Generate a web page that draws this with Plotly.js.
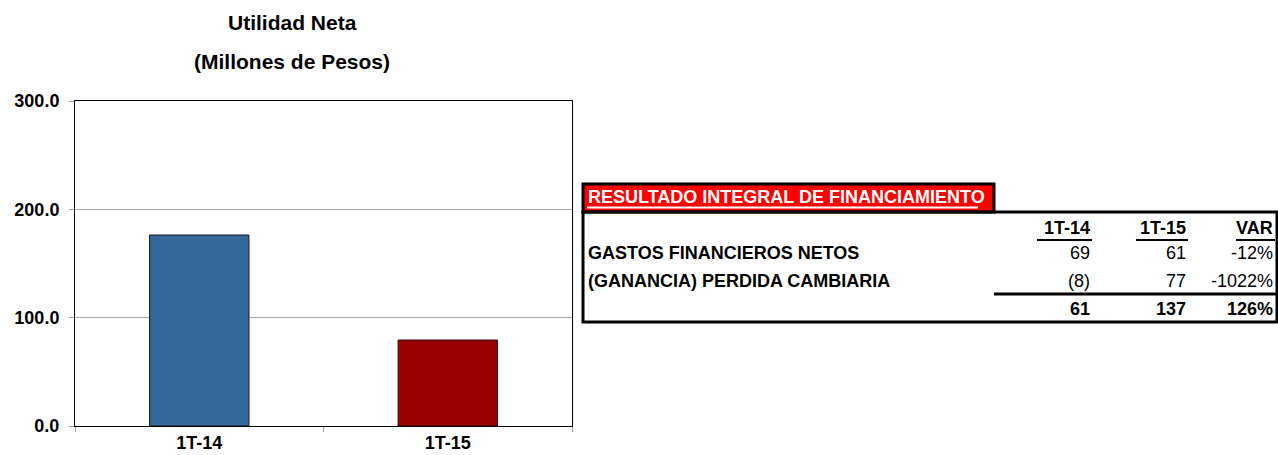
<!DOCTYPE html>
<html>
<head>
<meta charset="utf-8">
<script src="https://cdn.plot.ly/plotly-3.0.1.min.js"></script>
<style>html,body{margin:0;padding:0;background:#fff;}#chart{width:1278px;height:455px;}</style>
</head>
<body>
<div id="chart"></div>
<script>
// ---- data ----
const categories = ['1T-14', '1T-15'];
const utilidadNeta = [176.3, 79.4];
const barColors = ['#336699', '#990000'];
const yTickVals = [0, 100, 200, 300];
const yTickText = ['0.0', '100.0', '200.0', '300.0'];

const tableTitle = 'RESULTADO INTEGRAL DE FINANCIAMIENTO';
const tableCols = ['1T-14', '1T-15', 'VAR'];
const rowLabels = ['GASTOS FINANCIEROS NETOS', '(GANANCIA) PERDIDA CAMBIARIA'];
const gastosRow = ['69', '61', '-12%'];
const cambiariaRow = ['(8)', '77', '-1022%'];
const totalRow = ['61', '137', '126%'];

// ---- layout helpers (pixel -> paper) ----
const W = 1278, H = 455;
const PL = 75, PR = 572, PT = 101, PB = 426;
const px = v => (v - PL) / (PR - PL);
const py = v => (PB - v) / (PB - PT);

const FONT = 'Arial, "Liberation Sans", sans-serif';

const annotations = [];
const shapes = [];

// chart title
annotations.push({xref:'paper', yref:'paper', x:px(292), y:py(22), text:'Utilidad Neta', showarrow:false,
  xanchor:'center', yanchor:'middle', font:{family:FONT, size:21, weight:'bold', color:'#000'}});
annotations.push({xref:'paper', yref:'paper', x:px(292), y:py(62), text:'(Millones de Pesos)', showarrow:false,
  xanchor:'center', yanchor:'middle', font:{family:FONT, size:21, weight:'bold', color:'#000'}});

// table: red title box
shapes.push({type:'rect', xref:'paper', yref:'paper', x0:px(583), x1:px(994), y0:py(184), y1:py(212),
  fillcolor:'#ff0000', line:{color:'#000', width:3}});
annotations.push({xref:'paper', yref:'paper', x:px(586), y:py(197), text:tableTitle, showarrow:false,
  xanchor:'left', yanchor:'middle', font:{family:FONT, size:18, weight:'bold', color:'#fff'}});
shapes.push({type:'line', xref:'paper', yref:'paper', x0:px(587), x1:px(978), y0:py(207.5), y1:py(207.5),
  line:{color:'#fff', width:2}});

// table box
shapes.push({type:'rect', xref:'paper', yref:'paper', x0:px(583), x1:px(1277), y0:py(212), y1:py(322),
  fillcolor:'rgba(0,0,0,0)', line:{color:'#000', width:3}});
shapes.push({type:'line', xref:'paper', yref:'paper', x0:px(994), x1:px(1277), y0:py(294), y1:py(294),
  line:{color:'#000', width:3}});

const colRight = [1092, 1188, 1275];
const colULeft = [1037, 1136, 1236];
const rowY = {head:228, r1:253, r2:281, tot:309};

// header cells
tableCols.forEach((c, i) => {
  annotations.push({xref:'paper', yref:'paper', x:px(colRight[i]), y:py(rowY.head), text:c, showarrow:false,
    xanchor:'right', yanchor:'middle', font:{family:FONT, size:18, weight:'bold', color:'#000'}});
  shapes.push({type:'line', xref:'paper', yref:'paper', x0:px(colULeft[i]), x1:px(colRight[i]), y0:py(240), y1:py(240),
    line:{color:'#000', width:2}});
});

// row labels
rowLabels.forEach((lab, i) => {
  annotations.push({xref:'paper', yref:'paper', x:px(586), y:py(i === 0 ? rowY.r1 : rowY.r2), text:lab, showarrow:false,
    xanchor:'left', yanchor:'middle', font:{family:FONT, size:18, weight:'bold', color:'#000'}});
});

// values
[[gastosRow, rowY.r1, 'normal'], [cambiariaRow, rowY.r2, 'normal'], [totalRow, rowY.tot, 'bold']].forEach(([vals, y, w]) => {
  vals.forEach((v, i) => {
    annotations.push({xref:'paper', yref:'paper', x:px(colRight[i]), y:py(y), text:v, showarrow:false,
      xanchor:'right', yanchor:'middle', font:{family:FONT, size:18, weight:w, color:'#000'}});
  });
});

const data = [{
  type:'bar', x:categories, y:utilidadNeta, width:0.4,
  marker:{color:barColors, line:{color:'#1a1a1a', width:1}},
  hoverinfo:'none'
}];

const layout = {
  width:W, height:H,
  margin:{l:PL, r:W-PR, t:PT, b:H-PB, pad:0},
  paper_bgcolor:'#fff', plot_bgcolor:'#fff',
  showlegend:false,
  xaxis:{type:'category', tickson:'boundaries', ticks:'outside', ticklen:5, tickcolor:'#a0a0a0',
    showline:true, linecolor:'#000', linewidth:1, mirror:true, showgrid:false, zeroline:false,
    ticklabelstandoff:0,
    tickfont:{family:FONT, size:18, weight:'bold', color:'#000'}, fixedrange:true},
  yaxis:{range:[0,300], tickvals:yTickVals, ticktext:yTickText, ticks:'outside', ticklen:5, tickcolor:'#a0a0a0',
    showline:true, linecolor:'#000', linewidth:1, mirror:true, showgrid:true, gridcolor:'#a6a6a6', gridwidth:1,
    ticklabelstandoff:6,
    zeroline:false, tickfont:{family:FONT, size:18, weight:'bold', color:'#000'}, fixedrange:true},
  annotations:annotations,
  shapes:shapes
};

Plotly.newPlot('chart', data, layout, {staticPlot:true, displayModeBar:false});
</script>
</body>
</html>
